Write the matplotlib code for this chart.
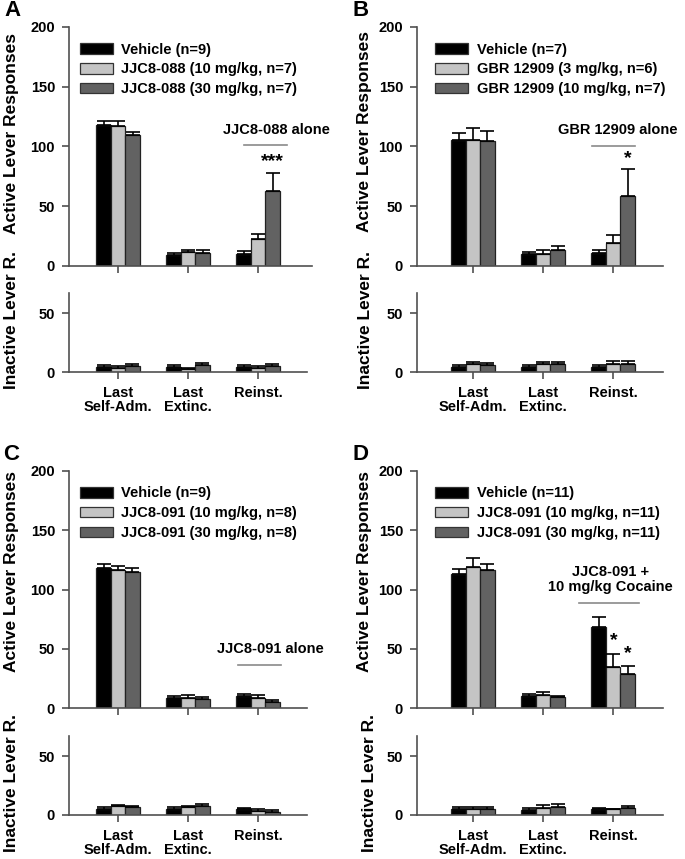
import numpy as np
import matplotlib
matplotlib.use('Agg')
import matplotlib.pyplot as plt

plt.rcParams['font.family'] = ['Liberation Sans', 'DejaVu Sans']
plt.rcParams['font.weight'] = 'bold'
plt.rcParams['font.size'] = 10.5

# ===== categorias do eixo x
grupos = ['Last\nSelf-Adm.', 'Last\nExtinc.', 'Reinst.']

# ===== painel A (veiculo, dose baixa, dose alta)
legA = ['Vehicle (n=9)', 'JJC8-088 (10 mg/kg, n=7)', 'JJC8-088 (30 mg/kg, n=7)']
ativoA = [[117.7, 9.0, 10.4], [117.3, 11.6, 22.6], [109.6, 11.0, 63.0]]
ativoA_err = [[3.6, 2.0, 2.0], [4.4, 1.4, 4.4], [2.2, 2.0, 14.8]]
inatA = [[4.2, 4.0, 4.0], [3.4, 2.8, 3.7], [4.8, 5.6, 4.8]]
inatA_err = [[1.8, 1.6, 2.0], [1.6, 0.9, 1.3], [2.0, 2.3, 1.7]]

# ===== painel B
legB = ['Vehicle (n=7)', 'GBR 12909 (3 mg/kg, n=6)', 'GBR 12909 (10 mg/kg, n=7)']
ativoB = [[105.4, 10.0, 11.0], [105.4, 10.3, 19.4], [104.6, 13.6, 58.5]]
ativoB_err = [[5.6, 1.5, 2.0], [9.8, 2.7, 6.4], [8.4, 2.8, 22.3]]
inatB = [[4.2, 4.0, 4.0], [7.0, 6.8, 6.8], [5.6, 6.5, 6.8]]
inatB_err = [[2.0, 1.6, 1.6], [1.8, 1.7, 2.8], [1.7, 2.3, 2.5]]

# ===== painel C
legC = ['Vehicle (n=9)', 'JJC8-091 (10 mg/kg, n=8)', 'JJC8-091 (30 mg/kg, n=8)']
ativoC = [[118.0, 8.4, 9.8], [116.6, 8.4, 8.4], [114.6, 7.6, 4.8]]
ativoC_err = [[3.6, 2.0, 2.0], [3.6, 2.6, 2.3], [3.7, 2.0, 1.7]]
inatC = [[5.0, 4.7, 5.3], [7.5, 7.0, 3.6], [6.4, 7.8, 2.8]]
inatC_err = [[2.0, 1.7, 0.3], [0.8, 0.8, 1.1], [1.6, 1.4, 1.1]]

# ===== painel D
legD = ['Vehicle (n=11)', 'JJC8-091 (10 mg/kg, n=11)', 'JJC8-091 (30 mg/kg, n=11)']
ativoD = [[112.9, 10.4, 68.3], [119.4, 11.2, 34.6], [116.6, 9.3, 28.9]]
ativoD_err = [[4.1, 1.4, 8.4], [7.0, 2.0, 11.2], [5.0, 1.1, 6.8]]
inatD = [[4.7, 4.2, 5.3], [4.7, 5.8, 5.0], [5.0, 7.2, 5.6]]
inatD_err = [[1.7, 1.9, 0.3], [2.3, 2.5, 0.3], [1.4, 2.2, 1.9]]

cores = ['#000000', '#c4c4c4', '#626262']
corEixo = '#505050'
W, H = 685.0, 859.0
larg = 0.207


def eixo(fig, x0, x1, ytop, ybot):
    # cria um eixo a partir de coordenadas em pixels
    return fig.add_axes([x0 / W, 1 - ybot / H, (x1 - x0) / W, (ybot - ytop) / H])


def barras(ax, medias, erros, xlim, ylim, yticks):
    xx = np.arange(len(grupos))
    for i in range(3):
        pos = xx + (i - 1) * larg
        ax.bar(pos, medias[i], width=larg, color=cores[i], edgecolor='#222222',
               linewidth=0.9, zorder=2)
        ax.errorbar(pos, medias[i], yerr=[np.zeros(3), erros[i]], fmt='none',
                    ecolor='black', elinewidth=1.2, capsize=5, capthick=1.2, zorder=3)
    ax.set_xlim(xlim)
    ax.set_ylim(ylim)
    ax.set_yticks(yticks)
    ax.set_xticks(xx)
    for s in ['top', 'right']:
        ax.spines[s].set_visible(False)
    for s in ['left', 'bottom']:
        ax.spines[s].set_color(corEixo)
        ax.spines[s].set_linewidth(1.2)
    ax.tick_params(direction='out', length=5, width=1.2, color=corEixo, labelsize=10.5)
    ax.tick_params(axis='y', pad=5)
    ax.tick_params(axis='x', pad=5)
    ax.patch.set_alpha(0)


def painel(fig, letra, xs, ys, leg, at, at_err, ina, ina_err, xlA, xlI, legx):
    # xs = (esq, dir_ativo, dir_inativo); ys = (topo_at, zero_at, topo_in, zero_in)
    axA = eixo(fig, xs[0], xs[1], ys[0], ys[1])
    barras(axA, at, at_err, xlA, (0, 200), [0, 50, 100, 150, 200])
    axA.set_xticklabels([])
    hs = [plt.Rectangle((0, 0), 1, 1, facecolor=cores[i], edgecolor='#333333', linewidth=0.9)
          for i in range(3)]
    axA.legend(hs, leg, loc='upper left', bbox_to_anchor=(legx, 0.935), frameon=False,
               borderpad=0, borderaxespad=0, handlelength=2.3, handleheight=0.75,
               handletextpad=0.55, labelspacing=0.4, fontsize=10.5)
    axI = eixo(fig, xs[0], xs[2], ys[2], ys[3])
    barras(axI, ina, ina_err, xlI, (0, 67), [0, 50])
    axI.set_xticklabels(grupos, linespacing=1.05)
    return axA, axI


fig = plt.figure(figsize=(6.85, 8.59), dpi=100)

# ---- A
axA, axAi = painel(fig, 'A', (69, 312, 307), (27, 266, 293, 372), legA,
                   ativoA, ativoA_err, inatA, inatA_err, (-0.7, 2.77), (-0.7, 2.7), 0.045)
axA.text(2.267, 114, 'JJC8-088 alone', ha='center', va='center')
axA.plot([1.8, 2.414], [101, 101], color='#8a8a8a', lw=1.2)
axA.text(2.207, 87, '***', ha='center', va='center', fontsize=14)

# ---- B
axB, axBi = painel(fig, 'B', (417, 663, 663), (27, 266, 293, 372), legB,
                   ativoB, ativoB_err, inatB, inatB_err, (-0.8, 2.714), (-0.8, 2.714), 0.073)
axB.text(2.064, 114, 'GBR 12909 alone', ha='center', va='center')
axB.plot([1.7, 2.314], [100.5, 100.5], color='#8a8a8a', lw=1.2)
axB.text(2.207, 90, '*', ha='center', va='center', fontsize=14)

# ---- C
axC, axCi = painel(fig, 'C', (69, 307, 307), (471, 708, 736, 815), legC,
                   ativoC, ativoC_err, inatC, inatC_err, (-0.7, 2.7), (-0.7, 2.7), 0.045)
axC.text(2.18, 49.7, 'JJC8-091 alone', ha='center', va='center')
axC.plot([1.71, 2.33], [36.5, 36.5], color='#8a8a8a', lw=1.2)

# ---- D
axD, axDi = painel(fig, 'D', (417, 663, 663), (471, 708, 736, 815), legD,
                   ativoD, ativoD_err, inatD, inatD_err, (-0.8, 2.714), (-0.8, 2.714), 0.073)
axD.text(1.96, 108.5, 'JJC8-091 +\n10 mg/kg Cocaine', ha='center', va='center',
         linespacing=1.1)
axD.plot([1.51, 2.37], [89, 89], color='#8a8a8a', lw=1.2)
axD.text(2.01, 57, '*', ha='center', va='center', fontsize=14)
axD.text(2.21, 46, '*', ha='center', va='center', fontsize=14)

# ---- letras e rotulos dos eixos
for letra, px, py in [('A', 4, 10), ('B', 352, 10), ('C', 3, 455), ('D', 353, 455)]:
    fig.text(px / W, 1 - py / H, letra, fontsize=16, ha='left', va='center')

for txt, px, py in [('Active Lever Responses', 12, 133), ('Inactive Lever R.', 12, 320),
                    ('Active Lever Responses', 365, 131), ('Inactive Lever R.', 366, 320),
                    ('Active Lever Responses', 12, 571), ('Inactive Lever R.', 12, 783),
                    ('Active Lever Responses', 365, 572), ('Inactive Lever R.', 369, 783)]:
    fig.text(px / W, 1 - py / H, txt, rotation=90, ha='center', va='center', fontsize=12.5)

fig.savefig('out.png', dpi=100)
